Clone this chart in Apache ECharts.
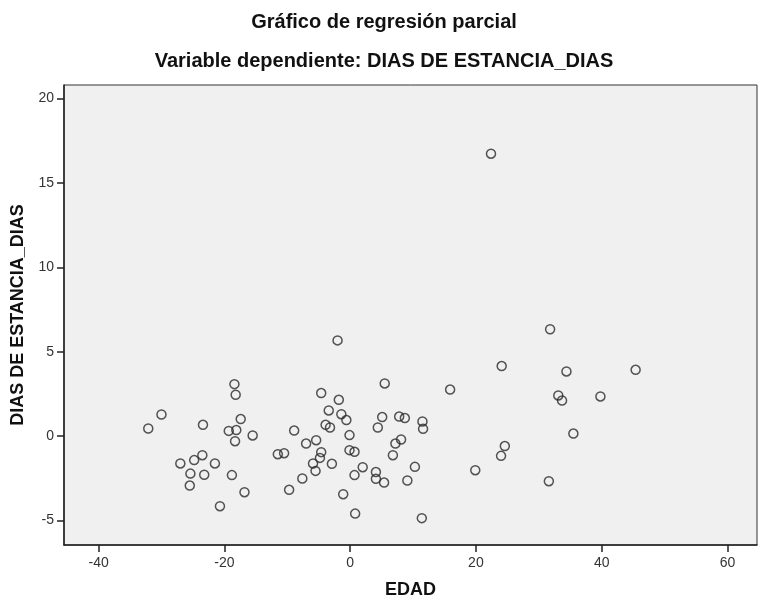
<!DOCTYPE html>
<html lang="es" style="height: 100%">
<head>
  <meta charset="utf-8">
</head>
<body style="height: 100%; margin: 0; background: #fff">
  <div id="container" style="width: 768px; height: 609px"></div>
  <script type="text/javascript" src="https://fastly.jsdelivr.net/npm/echarts@6/dist/echarts.min.js"></script>
  <script type="text/javascript">

    // residuos parciales: EDAD (x) frente a DIAS DE ESTANCIA_DIAS (y)
    var edad = [
      -18.4, -18.2, -30.0, -32.1, -23.4, -17.4, -19.3, -18.1, -18.3, -15.5,
      -23.5, -24.8, -27.0, -21.5, -25.4, -23.2, -18.8, -25.5, -16.8, -20.7,
      -11.5, -2.0, 5.5, 15.9, -4.6, -1.8, -3.4, -1.4, -0.6, -3.9,
      -3.2, 5.1, 4.4, 7.8, 8.7, 11.5, 11.6, -8.9, -0.1, -5.4,
      -7.0, 8.1, 7.2, -10.5, -4.6, -0.1, 0.7, -4.8, -5.9, -2.9,
      -5.5, -7.6, 2.0, 0.7, 4.1, 4.1, 5.4, 6.8, 10.3, 9.1,
      -9.7, -1.1, 0.8, 11.4, 31.8, 24.1, 34.4, 45.4, 33.1, 33.7,
      39.8, 35.5, 24.6, 24.0, 19.9, 31.6, 22.4
    ];
    var dias = [
      3.08, 2.45, 1.28, 0.45, 0.67, 1.01, 0.31, 0.36, -0.30, 0.04,
      -1.13, -1.42, -1.62, -1.62, -2.22, -2.29, -2.31, -2.93, -3.32, -4.15,
      -1.07, 5.67, 3.12, 2.76, 2.55, 2.15, 1.52, 1.30, 0.95, 0.67,
      0.51, 1.13, 0.51, 1.16, 1.07, 0.87, 0.43, 0.33, 0.06, -0.24,
      -0.44, -0.20, -0.44, -1.01, -0.95, -0.83, -0.93, -1.29, -1.62, -1.64,
      -2.06, -2.51, -1.84, -2.31, -2.13, -2.53, -2.75, -1.13, -1.82, -2.63,
      -3.18, -3.44, -4.59, -4.86, 6.33, 4.15, 3.83, 3.93, 2.41, 2.11,
      2.35, 0.15, -0.59, -1.17, -2.02, -2.67, 16.73
    ];
    var xTicks = [-40, -20, 0, 20, 40, 60];
    var yTicks = [-5, 0, 5, 10, 15, 20];

    var font = 'Liberation Sans, Arial, sans-serif';

    var points = [];
    edad.forEach(function (x, i) {
      points.push([x, dias[i]]);
    });

    var dom = document.getElementById('container');
    var myChart = echarts.init(dom, null, { renderer: 'canvas' });

    var option = {
      animation: false,
      title: [
        {
          text: 'Gráfico de regresión parcial',
          left: 'center',
          top: 7,
          textStyle: { fontFamily: font, fontSize: 20, fontWeight: 'bold', color: '#111' }
        },
        {
          text: 'Variable dependiente: DIAS DE ESTANCIA_DIAS',
          left: 'center',
          top: 46,
          textStyle: { fontFamily: font, fontSize: 20, fontWeight: 'bold', color: '#111' }
        }
      ],
      grid: {
        left: 64,
        right: 11,
        top: 85,
        bottom: 64,
        show: true,
        backgroundColor: '#f0f0f0',
        borderColor: '#333',
        borderWidth: 1
      },
      xAxis: {
        type: 'value',
        min: -45.5,
        max: 64.7,
        name: 'EDAD',
        nameLocation: 'middle',
        nameGap: 36,
        nameTextStyle: { fontFamily: font, fontSize: 18, fontWeight: 'bold', color: '#111' },
        splitLine: { show: false },
        axisLine: { onZero: false, lineStyle: { color: '#222', width: 1.5 } },
        axisTick: { customValues: xTicks, length: 7, lineStyle: { color: '#222', width: 1.5 } },
        axisLabel: { customValues: xTicks, fontFamily: font, fontSize: 14, color: '#333', margin: 11 }
      },
      yAxis: {
        type: 'value',
        min: -6.45,
        max: 20.8,
        name: 'DIAS DE ESTANCIA_DIAS',
        nameLocation: 'middle',
        nameGap: 36,
        nameTextStyle: { fontFamily: font, fontSize: 18, fontWeight: 'bold', color: '#111' },
        splitLine: { show: false },
        axisLine: { onZero: false, lineStyle: { color: '#222', width: 1.5 } },
        axisTick: { customValues: yTicks, length: 7, lineStyle: { color: '#222', width: 1.5 } },
        axisLabel: { customValues: yTicks, fontFamily: font, fontSize: 14, color: '#333', margin: 10 }
      },
      series: [
        {
          type: 'scatter',
          data: points,
          symbol: 'circle',
          symbolSize: 9,
          itemStyle: { color: 'transparent', borderColor: '#2a2a2a', borderWidth: 1.5 }
        }
      ]
    };

    myChart.setOption(option);
    window.addEventListener('resize', myChart.resize);

  </script>
</body>
</html>
